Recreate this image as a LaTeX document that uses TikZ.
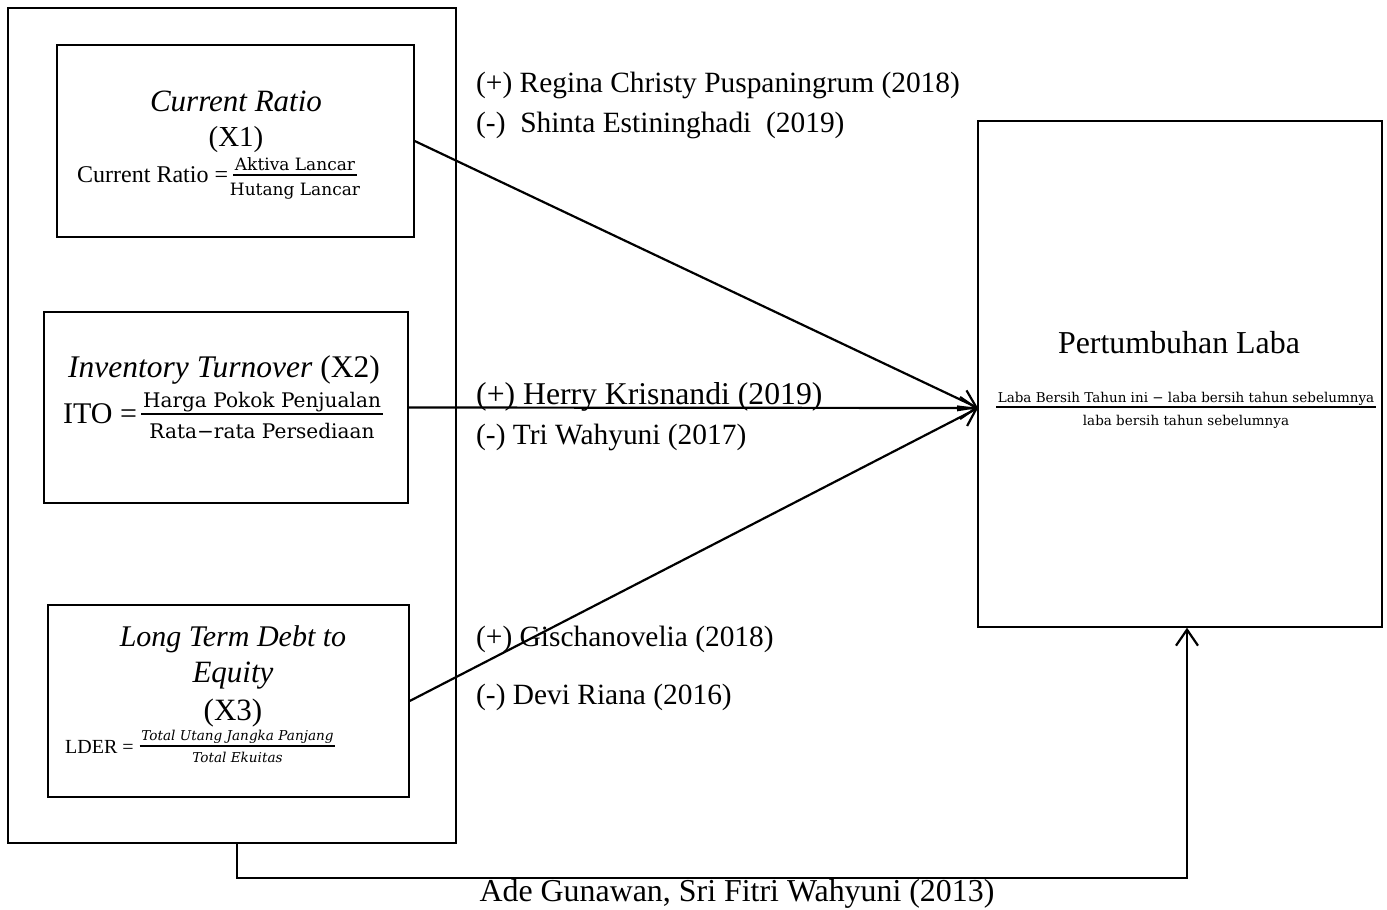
\documentclass[tikz,border=0pt]{standalone}
\usepackage{fontspec}
\setmainfont{Liberation Serif}
\newfontfamily\camfont{DejaVu Serif}
\usetikzlibrary{arrows.meta}
\newcommand{\fs}[1]{\fontsize{#1}{#1}\selectfont}
\begin{document}
\begin{tikzpicture}[x=1pt,y=-1pt,
  box/.style={draw, line width=1.4pt, inner sep=0pt},
  conn/.style={line width=2.2pt, -{Straight Barb[length=16pt,width=22pt,line width=2.2pt]}},
  txt/.style={inner sep=0pt, anchor=base west},
  ctxt/.style={inner sep=0pt, anchor=base},
  fbar/.style={line width=2pt, shorten <=-1.5pt, shorten >=-1.5pt},
]
\useasboundingbox[fill=white] (0,0) rectangle (1387,910);
% boxes
\node[box, minimum width=448pt, minimum height=835pt] (outer) at (232,425.5) {};
\node[box, minimum width=357pt, minimum height=192pt] (b1) at (235.5,141) {};
\node[box, minimum width=364pt, minimum height=191pt] (b2) at (226,407.5) {};
\node[box, minimum width=361pt, minimum height=192pt] (b3) at (228.5,701) {};
\node[box, minimum width=404pt, minimum height=506pt] (r) at (1180,374) {};
% box 1
\node[ctxt] (t1a) at (236,111) {\fs{31}\itshape Current Ratio};
\node[ctxt] (t1b) at (236,146) {\fs{29}(X1)};
\node[txt] (e1) at (77,182) {\fs{24}Current Ratio =};
\node[ctxt] (n1) at (295,170) {\camfont\fs{17}Aktiva Lancar};
\node[ctxt] (d1) at (295,195) {\camfont\fs{17}Hutang Lancar};
\coordinate (bar1) at (0,175);
\draw[fbar] (n1.west |- bar1) -- (n1.east |- bar1);
% box 2
\node[ctxt] (t2) at (224,377) {\fs{31.5}\textit{Inventory Turnover} (X2)};
\node[txt] (e2) at (63,423) {\fs{30}ITO =};
\node[ctxt] (n2) at (262,407) {\camfont\fs{20.1}Harga Pokok Penjualan};
\node[ctxt] (d2) at (262,438) {\camfont\fs{20.1}Rata\textminus rata Persediaan};
\coordinate (bar2) at (0,414);
\draw[fbar, line width=2.5pt] (n2.west |- bar2) -- (n2.east |- bar2);
% box 3
\node[ctxt] (t3a) at (233,646) {\fs{30}\itshape Long Term Debt to};
\node[ctxt] (t3b) at (233,682) {\fs{31}\itshape Equity};
\node[ctxt] (t3c) at (233,720) {\fs{31}(X3)};
\node[txt] (e3) at (65,753) {\fs{20}LDER =};
\node[ctxt] (n3) at (237.5,740) {\camfont\itshape\fs{13.6}Total Utang Jangka Panjang};
\node[ctxt] (d3) at (237.5,762) {\camfont\itshape\fs{13.6}Total Ekuitas};
\coordinate (bar3) at (0,746);
\draw[fbar] (n3.west |- bar3) -- (n3.east |- bar3);
% right box
\node[ctxt] (rt) at (1179,353) {\fs{31.9}Pertumbuhan Laba};
\node[ctxt] (rn) at (1186,402) {\camfont\fs{13.5}Laba Bersih Tahun ini \textminus\ laba bersih tahun sebelumnya};
\node[ctxt] (rd) at (1186,425) {\camfont\fs{13.5}laba bersih tahun sebelumnya};
\coordinate (bar4) at (0,407);
\draw[fbar] (rn.west |- bar4) -- (rn.east |- bar4);
% labels
\node[txt] (l1) at (476,92) {\fs{29.4}(+) Regina Christy Puspaningrum (2018)};
\node[txt] (l2) at (476,132) {\fs{29.4}(-)\ \ Shinta Estininghadi\ \ (2019)};
\node[txt] (l3) at (476,404) {\fs{31.7}(+) Herry Krisnandi (2019)};
\node[txt] (l4) at (476,444) {\fs{29.4}(-) Tri Wahyuni (2017)};
\node[txt] (l5) at (476,646) {\fs{29.4}(+) Gischanovelia (2018)};
\node[txt] (l6) at (476,704) {\fs{29.4}(-) Devi Riana (2016)};
\node[ctxt] (l7) at (737,901) {\fs{31.9}Ade Gunawan, Sri Fitri Wahyuni (2013)};
% connectors
\coordinate (t) at (978,408);
\coordinate (low) at (700,878);
\draw[conn] (b1.east) -- (t);
\draw[conn] (b2.east) -- (t);
\draw[conn] (b3.east) -- (t);
\draw[conn] ([xshift=5pt]outer.south) -- ([xshift=5pt]outer.south |- low) -| ([xshift=7pt]r.south);
\end{tikzpicture}
\end{document}
